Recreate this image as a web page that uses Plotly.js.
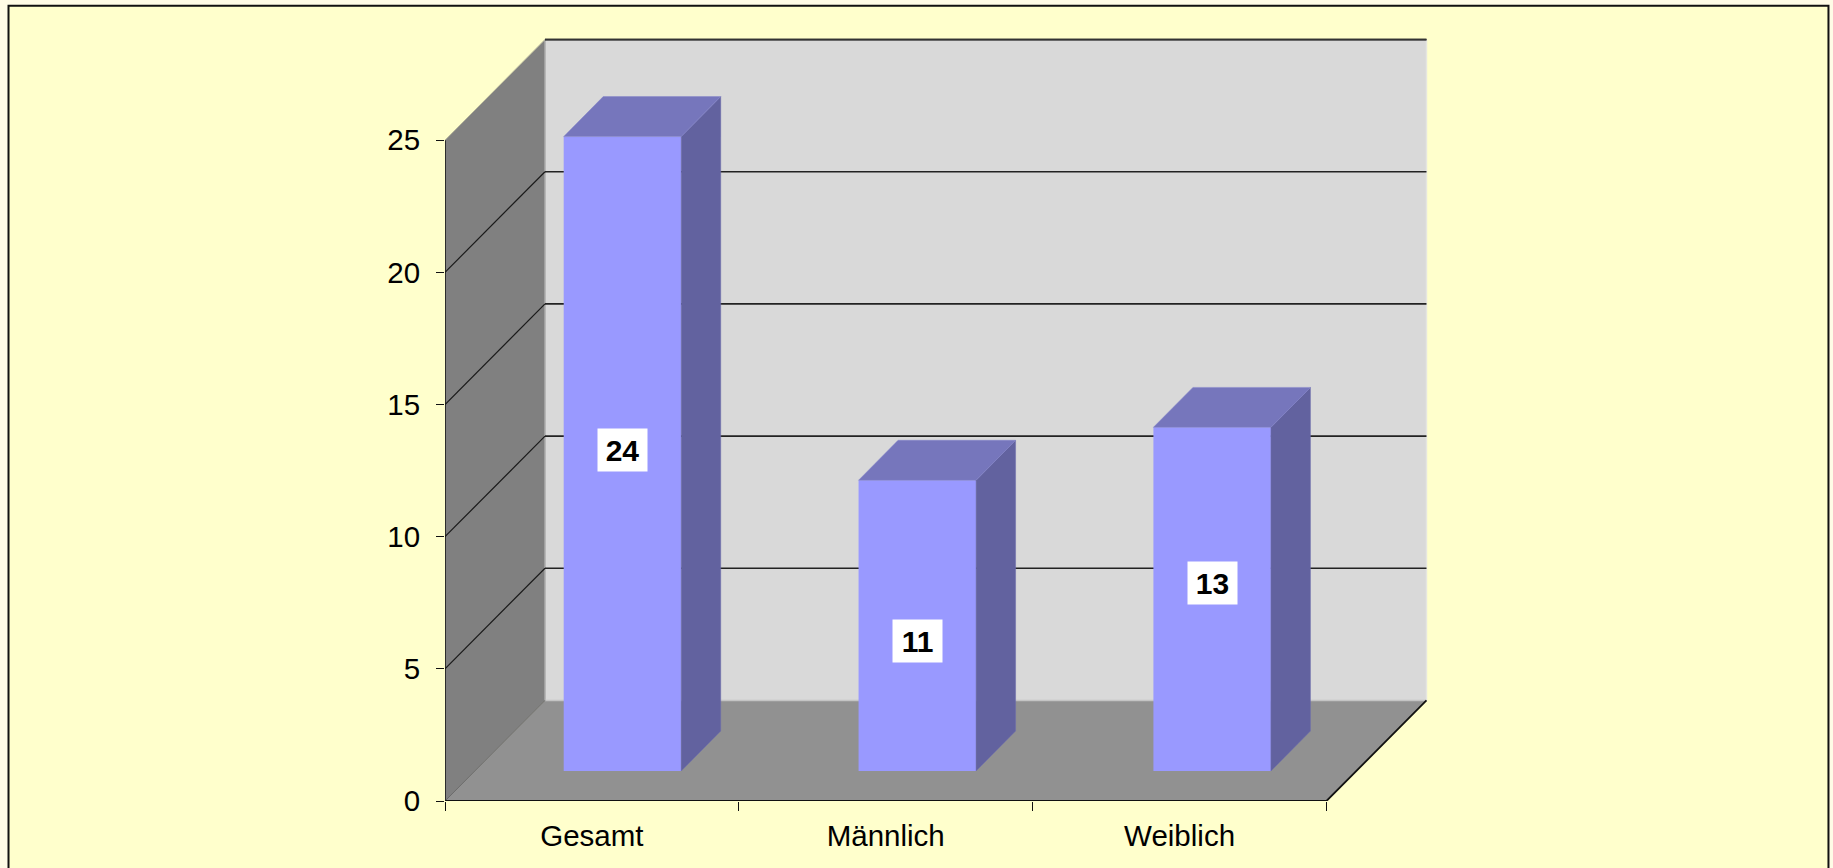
<!DOCTYPE html>
<html>
<head>
<meta charset="utf-8">
<script src="https://cdn.plot.ly/plotly-3.0.1.min.js"></script>
<style>html,body{margin:0;padding:0;background:#FFFCE6;overflow:hidden}</style>
</head>
<body>
<div id="chart" style="width:1833px;height:868px"></div>
<script>
const categories = ["Gesamt", "Männlich", "Weiblich"];
const values = [24, 11, 13];
const yTicks = [0, 5, 10, 15, 20, 25];
const labelNudge = [4, -15, 16.6];

// layout geometry
const W = 1833, H = 868;
const pxX = 293.83, pxY = 26.44;
const originX = 444.5, originY = 801;
const rangeX = 3.4, rangeY = 30;
const wallDX = 100 / pxX, wallDY = 100.6 / pxY;
const barDX = 39.5 / pxX, barDY = 40 / pxY;
const lift = 30 / pxY;
const barW = 0.4, firstBar = 0.604, barStep = 1.0035;
const nCat = categories.length, yMax = yTicks[yTicks.length - 1];
const centers = categories.map((c, i) => firstBar + barStep * i);

const poly = pts => 'M' + pts.map(p => p.join(',')).join('L') + 'Z';
const fillShape = (pts, color) => ({type:'path', layer:'below', xref:'x', yref:'y', path:poly(pts), fillcolor:color, line:{width:0}});
const lineShape = (x0, y0, x1, y1, color, width) => ({type:'line', layer:'below', xref:'x', yref:'y', x0, y0, x1, y1, line:{color, width}});

const shapes = [
  {type:'rect', layer:'below', xref:'paper', yref:'paper',
   x0:(8 - originX) / (rangeX * pxX), x1:(1828 - originX) / (rangeX * pxX),
   y0:-0.2, y1:(originY - 5.5) / (rangeY * pxY),
   fillcolor:'#FFFFCC', line:{color:'#111111', width:2}},
  fillShape([[wallDX, wallDY], [wallDX + nCat, wallDY], [wallDX + nCat, yMax + wallDY], [wallDX, yMax + wallDY]], '#D9D9D9'),
  fillShape([[0, 0], [0, yMax], [wallDX, yMax + wallDY], [wallDX, wallDY]], '#808080'),
  fillShape([[0, 0], [nCat, 0], [nCat + wallDX, wallDY], [wallDX, wallDY]], '#919191'),
  lineShape(wallDX, wallDY, wallDX, yMax + wallDY, '#ABABAB', 1.5),
  lineShape(wallDX + nCat, wallDY, wallDX + nCat, yMax + wallDY, '#E6E6E0', 1.5),
  lineShape(wallDX, wallDY, wallDX + nCat, wallDY, '#C4C4C4', 1.5),
  lineShape(0, yMax, wallDX, yMax + wallDY, '#B5B59A', 1),
  lineShape(0, 0, wallDX, wallDY, '#6A6A6A', 1)
];
yTicks.filter(v => v > 0).forEach(v => {
  shapes.push(lineShape(wallDX, v + wallDY, wallDX + nCat, v + wallDY, '#222222', 1.7));
  if (v < yMax) shapes.push(lineShape(0, v, wallDX, v + wallDY, '#1A1A1A', 1.2));
});

const sideTrace = (i, v) => {
  const r = centers[i] + barW / 2;
  return {type:'scatter', mode:'lines', fill:'toself', fillcolor:'#62629F', hoverinfo:'skip',
    line:{color:'#6E6EAE', width:0.5},
    x:[r, r + barDX, r + barDX, r, r],
    y:[lift, lift + barDY, lift + v + barDY, lift + v, lift]};
};
const topTrace = (i, v) => {
  const l = centers[i] - barW / 2, r = centers[i] + barW / 2, t = lift + v;
  return {type:'scatter', mode:'lines', fill:'toself', fillcolor:'#7676BC', hoverinfo:'skip',
    line:{color:'#8484CC', width:0.5},
    x:[l, r, r + barDX, l + barDX, l],
    y:[t, t, t + barDY, t + barDY, t]};
};

const traces = [
  {type:'bar', x:centers, y:values, base:lift, width:barW, marker:{color:'#9999FF', line:{width:0}}, hoverinfo:'skip'}
];
values.forEach((v, i) => { traces.push(sideTrace(i, v)); traces.push(topTrace(i, v)); });
traces.push({type:'scatter', mode:'lines', cliponaxis:false, hoverinfo:'skip', line:{color:'#111111', width:1.5},
  x:[0, 0], y:[0, yMax]});
traces.push({type:'scatter', mode:'lines', cliponaxis:false, hoverinfo:'skip', line:{color:'#111111', width:1.8},
  x:[0, nCat, nCat + wallDX], y:[0, 0, wallDY]});
traces.push({type:'scatter', mode:'lines', cliponaxis:false, hoverinfo:'skip', line:{color:'#333333', width:1.5},
  x:[wallDX, wallDX + nCat], y:[yMax + wallDY, yMax + wallDY]});

const annotations = values.map((v, i) => ({
  x:centers[i], y:lift + v / 2, xref:'x', yref:'y', yshift:labelNudge[i],
  text:'<b>' + v + '</b>', showarrow:false, bgcolor:'#FFFFFF', width:49, height:42, borderpad:0,
  align:'center', valign:'middle', xanchor:'center', yanchor:'middle',
  font:{family:'Liberation Sans', size:30, color:'#000000'}
}));

const tickFont = {family:'Liberation Sans', size:29.5, color:'#000000'};
const layout = {
  width:W, height:H, autosize:false, showlegend:false,
  paper_bgcolor:'#FFFCE6', plot_bgcolor:'rgba(0,0,0,0)',
  margin:{l:originX, r:W - originX - rangeX * pxX, t:originY - rangeY * pxY, b:H - originY, pad:0},
  barmode:'overlay',
  xaxis:{range:[0, rangeX], showgrid:false, zeroline:false, showline:false, fixedrange:true,
    tickmode:'array', tickvals:categories.map((c, i) => i + 0.5), ticktext:categories,
    ticks:'outside', ticklen:9, tickcolor:'rgba(0,0,0,0)', tickfont:tickFont,
    minor:{tickmode:'array', tickvals:categories.map((c, i) => i).concat([nCat]), ticks:'outside', ticklen:9, tickwidth:1, tickcolor:'#111111', showgrid:false}},
  yaxis:{range:[0, rangeY], showgrid:false, zeroline:false, showline:false, fixedrange:true,
    tickmode:'array', tickvals:yTicks, ticktext:yTicks.map(String),
    ticks:'outside', ticklen:8, tickwidth:1, tickcolor:'#111111', tickfont:tickFont, ticklabelstandoff:10},
  shapes, annotations
};
Plotly.newPlot('chart', traces, layout, {displayModeBar:false, staticPlot:true});
</script>
</body>
</html>
